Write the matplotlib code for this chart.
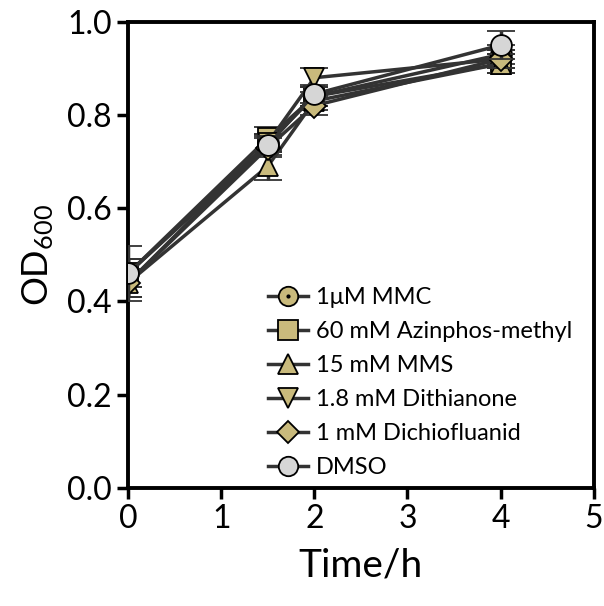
import numpy as np
import matplotlib.pyplot as plt
from matplotlib.lines import Line2D

plt.rcParams['font.family'] = ['Lato', 'DejaVu Sans']
plt.rcParams['mathtext.fontset'] = 'custom'
plt.rcParams['mathtext.rm'] = 'Lato'
plt.rcParams['mathtext.it'] = 'Lato'
plt.rcParams['mathtext.default'] = 'rm'

# -----------------------------
# Data
# -----------------------------
time = [0, 1.5, 2, 4]
labels = ['1\u03bcM MMC', '60 mM Azinphos-methyl', '15 mM MMS',
          '1.8 mM Dithianone', '1 mM Dichiofluanid', 'DMSO']
mmc      = [0.46, 0.74, 0.84, 0.93]
azinphos = [0.46, 0.75, 0.84, 0.91]
mms      = [0.44, 0.69, 0.83, 0.91]
dithian  = [0.44, 0.74, 0.88, 0.92]
dichio   = [0.44, 0.73, 0.82, 0.92]
dmso     = [0.46, 0.735, 0.845, 0.95]
err_mmc      = [0.03, 0.02, 0.02, 0.02]
err_azinphos = [0.03, 0.025, 0.02, 0.02]
err_mms      = [0.03, 0.03, 0.02, 0.02]
err_dithian  = [0.03, 0.02, 0.02, 0.02]
err_dichio   = [0.03, 0.02, 0.02, 0.02]
err_dmso     = [0.06, 0.02, 0.02, 0.03]

series = [mmc, azinphos, mms, dithian, dichio, dmso]
errors = [err_mmc, err_azinphos, err_mms, err_dithian, err_dichio, err_dmso]
markers = ['o', 's', '^', 'v', 'D', 'o']
sizes = [15, 15, 15, 15, 12, 15]
khaki = '#C9BA7C'
faces = [khaki] * 5 + ['#D6D6D6']

# -----------------------------
# Plot
# -----------------------------
fig = plt.figure(figsize=(6.04, 6.06), dpi=100)
ax = fig.add_axes([0.212, 0.195, 0.771, 0.769])

handles = []
for i, (y, e) in enumerate(zip(series, errors)):
    ax.errorbar(time, y, yerr=e, color='#333333', lw=2.5,
                marker=markers[i], ms=sizes[i], mfc=faces[i], mec='black',
                mew=1.3, capsize=10, capthick=2.5, elinewidth=2.5,
                zorder=3 + i)
    handles.append(Line2D([], [], color='#333333', lw=2.5, marker=markers[i],
                          ms=sizes[i] - 1, mfc=faces[i], mec='black', mew=1.3))
mmc_dot = Line2D([], [], ls='none', marker='.', ms=4, color='black')

ax.set_xlim(0, 5)
ax.set_ylim(0, 1.0)
ax.set_xticks([0, 1, 2, 3, 4, 5])
ax.set_yticks([0.0, 0.2, 0.4, 0.6, 0.8, 1.0])
ax.set_yticklabels(['0.0', '0.2', '0.4', '0.6', '0.8', '1.0'])
ax.tick_params(labelsize=23, width=2.5, length=8, direction='out')
for s in ax.spines.values():
    s.set_linewidth(2.8)
ax.set_xlabel('Time/h', fontsize=28, labelpad=10)
ax.set_ylabel('OD$_{600}$', fontsize=26, labelpad=8)

hl = [(handles[0], mmc_dot)] + handles[1:]
leg = ax.legend(hl, labels, loc='lower left', bbox_to_anchor=(0.27, -0.01),
                frameon=False, handlelength=1.7,
                handletextpad=0.35, labelspacing=0.55, borderaxespad=0.2,
                prop={'size': 17})

plt.savefig('out.png', dpi=100)
